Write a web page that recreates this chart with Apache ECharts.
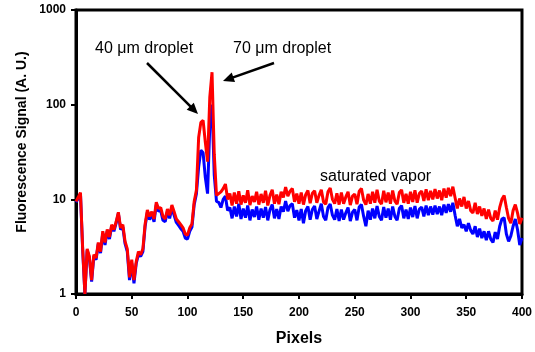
<!DOCTYPE html>
<html>
<head>
<meta charset="utf-8">
<script src="https://cdn.jsdelivr.net/npm/echarts@6/dist/echarts.min.js"></script>
<style>
  html, body { margin: 0; padding: 0; background: #fff; }
  #main { width: 535px; height: 352px; }
</style>
</head>
<body>
<div id="main"></div>
<script>
// pixel position along the line profile, every 2 pixels
var pixelStep = 2
var pixelMax = 400

// red trace (with droplets)
var redSignal = [
  9.5, 10.5, 11.8, 3, 1.0, 3.0, 2.5, 1.4, 2.6, 2.4,
  3.5, 2.8, 4.6, 3.5, 4.8, 4.0, 5.4, 4.8, 5.8, 7.3,
  5.0, 5.4, 3.6, 3.0, 1.5, 2.3, 1.4, 2.2, 2.8, 2.6,
  3.0, 5.5, 7.7, 6.6, 7.4, 6.2, 9.3, 8.0, 8.2, 6.6,
  6.2, 7.9, 6.8, 8.7, 7.4, 6.2, 5.8, 5.4, 5.0, 4.3,
  4.2, 5.0, 5.5, 9.5, 12.5, 45, 65, 68, 40, 25,
  120, 220, 30, 11, 11.5, 12, 13, 14.5, 10, 11.5,
  8.6, 11.8, 9, 12.2, 8.8, 11, 9.2, 12.5, 8.7, 10.8,
  9.4, 12, 8.8, 11.4, 9.2, 12.3, 8.6, 11, 12.6, 9,
  11.2, 8.9, 12, 10.5, 13.5, 10.8, 12.2, 13, 9.4, 11.5,
  9, 11.8, 8.8, 11.2, 12.4, 9.1, 11.6, 12.3, 9.2, 11,
  12.6, 9.4, 8.9, 12, 13.2, 10, 9, 11.6, 8.8, 11.8,
  9, 10.6, 12, 8.7, 10.8, 11.4, 8.9, 12.2, 13, 9.8,
  8.8, 11.4, 9, 12, 9.2, 12.6, 9.6, 8.9, 12.3, 9.3,
  11.8, 9, 12.4, 9.6, 8.9, 11.8, 12.6, 9.2, 11.4, 9,
  12, 9.4, 12.5, 9.2, 11.6, 12.2, 9.6, 12.8, 9.8, 12.3,
  10, 12.8, 10.2, 12.4, 9.8, 13, 10.4, 13.2, 10.8, 13.6,
  10.4, 8, 10.2, 8.4, 10.6, 8, 9.6, 7.6, 7.2, 9.2,
  7, 8.4, 6.7, 8, 6.2, 7.8, 6.3, 5.9, 7.6, 6.1,
  8.2, 10, 11, 8.2, 6.3, 5.6, 7.6, 8.8, 7.2, 5.5,
  6.4
]

// blue trace
var blueSignal = [
  9.3, 10.2, 11.5, 2.9, 1.0, 2.9, 2.4, 1.35, 2.5, 2.3,
  3.4, 2.7, 4.4, 3.3, 4.6, 3.8, 5.2, 4.6, 5.6, 7.1,
  4.8, 5.1, 3.4, 2.8, 1.4, 2.1, 1.3, 2.1, 2.6, 2.5,
  2.8, 5.2, 7.3, 6.1, 7.0, 5.8, 8.8, 7.5, 7.6, 6.0,
  5.8, 7.4, 6.3, 8.1, 6.8, 5.7, 5.3, 4.9, 4.6, 3.9,
  3.8, 4.6, 5.1, 8.8, 11.5, 22, 33, 31, 17, 11.5,
  60, 100, 18, 9.5, 9.3, 8.2, 10, 10.8, 7.6, 8.2,
  6.3, 8.4, 6.6, 9, 6.2, 8, 6.4, 8.6, 6, 7.8,
  6.5, 8.4, 6.1, 8, 6.4, 8.3, 6, 7.8, 8.8, 6.3,
  7.9, 6.2, 8.4, 7.4, 9.6, 7.5, 8.6, 9, 6.4, 7.7,
  6, 7.9, 5.6, 7.6, 8.4, 6.1, 7.8, 8.5, 6.2, 7.5,
  9, 6.6, 6, 8.2, 8.9, 6.8, 6.1, 7.9, 5.9, 7.8,
  6.1, 7.2, 8.2, 5.9, 7.3, 7.8, 6, 8.3, 8.8, 6.6,
  5.2, 7.6, 6.1, 8, 6.3, 8.5, 6.6, 6, 8.3, 6.4,
  8, 6.1, 8.4, 6.6, 6, 8, 8.6, 6.3, 7.8, 6.2,
  8.2, 6.5, 8.5, 6.3, 7.9, 8.3, 6.6, 8.6, 6.8, 8.4,
  6.9, 8.6, 7, 8.4, 6.8, 8.8, 7.2, 8.9, 7.4, 9.2,
  6.8, 5.2, 6.2, 5, 5.4, 4.6, 5.6, 4.7, 4.3, 5.2,
  4, 4.9, 3.9, 4.6, 3.7, 4.6, 3.8, 3.5, 4.5, 3.8,
  5.2, 6.2, 6.4, 4.3, 3.6, 4.1, 5.2, 6.2, 4.8, 3.3,
  3.9
]

var xTicks = [0, 50, 100, 150, 200, 250, 300, 350, 400]
var yTicks = [1, 10, 100, 1000]

function toPairs(values) {
  var out = []
  for (var i = 0; i < values.length; i++) {
    var px = i * pixelStep
    if (px > pixelMax) break
    out.push([px, values[i]])
  }
  return out
}

// arrow = line + filled head, from (x1,y1) to tip (x2,y2)
function arrow(x1, y1, x2, y2) {
  var dx = x2 - x1, dy = y2 - y1
  var len = Math.sqrt(dx * dx + dy * dy)
  var ux = dx / len, uy = dy / len
  var headLen = 11, headHalf = 5
  var bx = x2 - ux * headLen, by = y2 - uy * headLen
  return [
    {
      type: 'line',
      shape: { x1: x1, y1: y1, x2: bx + ux, y2: by + uy },
      style: { stroke: '#000', lineWidth: 2.5 }
    },
    {
      type: 'polygon',
      shape: { points: [[x2, y2], [bx - uy * headHalf, by + ux * headHalf], [bx + uy * headHalf, by - ux * headHalf]] },
      style: { fill: '#000' }
    }
  ]
}

var labelFont = 'Arial, "Liberation Sans", sans-serif'

var option = {
  animation: false,
  backgroundColor: '#fff',
  grid: {
    left: 76,
    right: 10,
    top: 10,
    bottom: 54,
    show: true,
    borderColor: '#000',
    borderWidth: 3
  },
  xAxis: {
    type: 'value',
    min: xTicks[0],
    max: xTicks[xTicks.length - 1],
    interval: 50,
    name: 'Pixels',
    nameLocation: 'middle',
    nameGap: 37,
    nameTextStyle: { fontFamily: labelFont, fontWeight: 'bold', fontSize: 16, color: '#000' },
    axisLine: { lineStyle: { color: '#000', width: 3 } },
    axisTick: { inside: false, length: 5, lineStyle: { color: '#000', width: 2 } },
    axisLabel: { margin: 13, fontFamily: labelFont, fontWeight: 'bold', fontSize: 12, color: '#000' },
    splitLine: { show: false }
  },
  yAxis: {
    type: 'log',
    logBase: 10,
    min: yTicks[0],
    max: yTicks[yTicks.length - 1],
    axisLine: { lineStyle: { color: '#000', width: 3 } },
    axisTick: { inside: false, length: 5, lineStyle: { color: '#000', width: 2 } },
    axisLabel: {
      margin: 10, fontFamily: labelFont, fontWeight: 'bold', fontSize: 12, color: '#000',
      formatter: function (value) {
        return Math.round(value) + ''
      }
    },
    minorTick: { show: false },
    splitLine: { show: false }
  },
  series: [
    {
      name: 'blue',
      type: 'line',
      data: toPairs(blueSignal),
      showSymbol: false,
      lineStyle: { color: '#0000ff', width: 3 },
      itemStyle: { color: '#0000ff' }
    },
    {
      name: 'red',
      type: 'line',
      data: toPairs(redSignal),
      showSymbol: false,
      lineStyle: { color: '#ff0000', width: 3 },
      itemStyle: { color: '#ff0000' }
    }
  ],
  graphic: [
    {
      type: 'text',
      x: 22, y: 142,
      rotation: Math.PI / 2,
      style: {
        text: 'Fluorescence Signal (A. U.)',
        font: 'bold 14px ' + labelFont,
        fill: '#000',
        textAlign: 'center',
        textVerticalAlign: 'middle'
      }
    },
    {
      type: 'text', x: 95, y: 49,
      style: { text: '40 μm droplet', font: '16px ' + labelFont, fill: '#000', textVerticalAlign: 'middle' }
    },
    {
      type: 'text', x: 233, y: 49,
      style: { text: '70 μm droplet', font: '16px ' + labelFont, fill: '#000', textVerticalAlign: 'middle' }
    },
    {
      type: 'text', x: 320, y: 177,
      style: { text: 'saturated vapor', font: '16px ' + labelFont, fill: '#000', textVerticalAlign: 'middle' }
    }
  ].concat(arrow(147, 63, 198, 114)).concat(arrow(274, 63, 223, 81))
}

var chart = echarts.init(document.getElementById('main'))
chart.setOption(option)
</script>
</body>
</html>
